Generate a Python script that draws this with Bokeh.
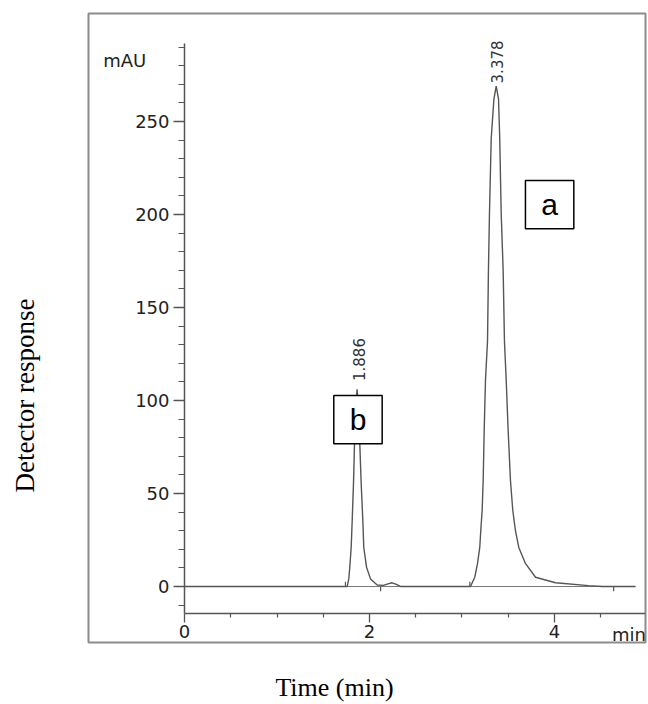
import math
from bokeh.plotting import figure
from bokeh.models import LinearAxis, FixedTicker, Label, BoxAnnotation, Range1d, ColumnDataSource
from bokeh.embed import file_html
from bokeh.resources import INLINE

# ---- data ----
time_min = [0.0, 1.70, 1.759, 1.776, 1.787, 1.802, 1.813, 1.827, 1.838, 1.848, 1.866,
            1.882, 1.895, 1.910, 1.928, 1.938, 1.968, 2.011, 2.083, 2.15, 2.20, 2.245,
            2.29, 2.34, 3.0, 3.092, 3.138, 3.168, 3.192, 3.203, 3.218, 3.229, 3.240,
            3.254, 3.276, 3.286, 3.297, 3.316, 3.345, 3.37, 3.395, 3.408, 3.424, 3.445,
            3.459, 3.478, 3.499, 3.524, 3.549, 3.578, 3.614, 3.686, 3.795, 4.011, 4.368,
            4.52, 4.876]
response_mau = [0, 0, 0, 4.1, 10.4, 21.1, 35.5, 55.4, 76.9, 95, 106,
                95, 76.9, 55.4, 35.5, 21.1, 10.4, 4.1, 0.8, 0.6, 1.4, 2.0,
                1.2, 0, 0, 0, 5, 12.4, 21, 30, 41, 57, 84,
                111, 132, 170, 200.5, 241, 262, 269, 262, 241, 200.5, 170,
                132, 111, 84, 57, 41, 30, 21, 12.4, 5, 2, 0.5,
                0, 0]
baseline_start = [0.0]
baseline_end = [4.876]
marker_times = [1.74, 2.12, 3.085, 4.64]
marker_dirs = [1, -1, 1, -1]
peak_times = [1.886, 3.378]
peak_labels = ["1.886", "3.378"]
peak_heights = [106, 269]
y_ticks = [0, 50, 100, 150, 200, 250]
y_minor = [-10, 10, 20, 30, 40, 60, 70, 80, 90, 110, 120, 130, 140, 160, 170, 180, 190,
           210, 220, 230, 240, 260, 270, 280, 290]
x_ticks = [0, 2, 4]
x_minor = [0.5, 1, 1.5, 2.5, 3, 3.5, 4.5]
y_title = "Detector response"
x_title = "Time (min)"

SANS = "DejaVu Sans"
BOXFONT = "Liberation Sans"
SERIF = "Liberation Serif"
NBSP = "\u00a0"

p = figure(width=648, height=704, output_backend="svg", toolbar_location=None,
           x_range=Range1d(-1.038, 4.984), y_range=Range1d(-30.1, 308.1),
           x_axis_location=None, y_axis_location=None,
           min_border_left=88, min_border_right=3, min_border_top=13, min_border_bottom=62)
p.xgrid.visible = False
p.ygrid.visible = False
p.outline_line_color = "#8c8c8c"
p.outline_line_width = 2
p.background_fill_color = "white"
p.border_fill_color = "white"

# outer titles as tick-less axes at the frame edges (trailing no-break spaces shift the
# centred title toward its start, as in the original figure)
title_y = LinearAxis(ticker=FixedTicker(ticks=[]), axis_label=y_title + NBSP * 20)
title_x = LinearAxis(ticker=FixedTicker(ticks=[]), axis_label=x_title + NBSP * 10)
for ax, st, fs in ((title_y, 49, "27px"), (title_x, 30, "26px")):
    ax.axis_line_color = None
    ax.major_tick_line_color = None
    ax.minor_tick_line_color = None
    ax.major_tick_out = 0
    ax.minor_tick_out = 0
    ax.axis_label_standoff = st
    ax.axis_label_text_font = SERIF
    ax.axis_label_text_font_size = fs
    ax.axis_label_text_font_style = "normal"
    ax.axis_label_text_color = "black"
p.add_layout(title_y, "left")
p.add_layout(title_x, "below")

yaxis = LinearAxis(fixed_location=0, bounds=(-14.5, 292),
                   ticker=FixedTicker(ticks=y_ticks, minor_ticks=y_minor))
xaxis = LinearAxis(fixed_location=-14.5, bounds=(0, 4.984),
                   ticker=FixedTicker(ticks=x_ticks, minor_ticks=x_minor))
for ax in (yaxis, xaxis):
    ax.axis_line_color = "#555555"
    ax.axis_line_width = 1.5
    ax.major_tick_line_color = "#555555"
    ax.minor_tick_line_color = "#555555"
    ax.major_tick_line_width = 1.3
    ax.minor_tick_line_width = 1.2
    ax.major_tick_in = 0
    ax.minor_tick_in = 0
    ax.major_label_text_font = SANS
    ax.major_label_text_font_size = "18px"
    ax.major_label_text_color = "#222222"
yaxis.major_tick_out = 11
yaxis.minor_tick_out = 6
yaxis.major_label_standoff = 4
xaxis.major_tick_out = 9
xaxis.minor_tick_out = 4
xaxis.major_label_standoff = 3
p.add_layout(yaxis, "left")
p.add_layout(xaxis, "below")

# baseline and trace
p.segment(x0=baseline_start, y0=[0], x1=baseline_end, y1=[0], line_color="#777777", line_width=1)
p.line(time_min, response_mau, line_color="#555555", line_width=1.4)

# integration markers
msrc = ColumnDataSource(dict(x=marker_times, y0=[0] * len(marker_times),
                             y1=[2.6 * d for d in marker_dirs]))
p.segment(x0="x", y0="y0", x1="x", y1="y1", source=msrc, line_color="#555555", line_width=1.2)

# retention time labels
for t, lab, h, off in zip(peak_times, peak_labels, peak_heights, (4.5, 1.5)):
    p.add_layout(Label(x=t, y=h + off, text=lab, angle=math.pi / 2, text_align="left",
                       text_baseline="middle", text_font=SANS, text_font_size="15px",
                       text_color="#333333"))

# boxed letters
for l, r, b, t in ((3.686, 4.209, 192.3, 218.3), (1.614, 2.137, 76.7, 102.7)):
    p.add_layout(BoxAnnotation(left=l, right=r, bottom=b, top=t, fill_color="white",
                               fill_alpha=1, line_color="black", line_alpha=1, line_width=1.5))
p.add_layout(Label(x=3.946, y=205.4, text="a", text_align="center", text_baseline="middle",
                   text_font=BOXFONT, text_font_size="30px", text_color="black"))
p.add_layout(Label(x=1.876, y=89.8, text="b", text_align="center", text_baseline="middle",
                   text_font=BOXFONT, text_font_size="30px", text_color="black"))

# unit labels on the chromatogram
p.add_layout(Label(x=-0.879, y=282.8, text="mAU", text_align="left", text_baseline="alphabetic",
                   text_font=SANS, text_font_size="18px", text_color="#222222"))
p.add_layout(Label(x=4.805, y=-25.8, text="min", text_align="center", text_baseline="middle",
                   text_font=SANS, text_font_size="18px", text_color="#222222"))

open("out.html", "w").write(file_html(p, INLINE))
